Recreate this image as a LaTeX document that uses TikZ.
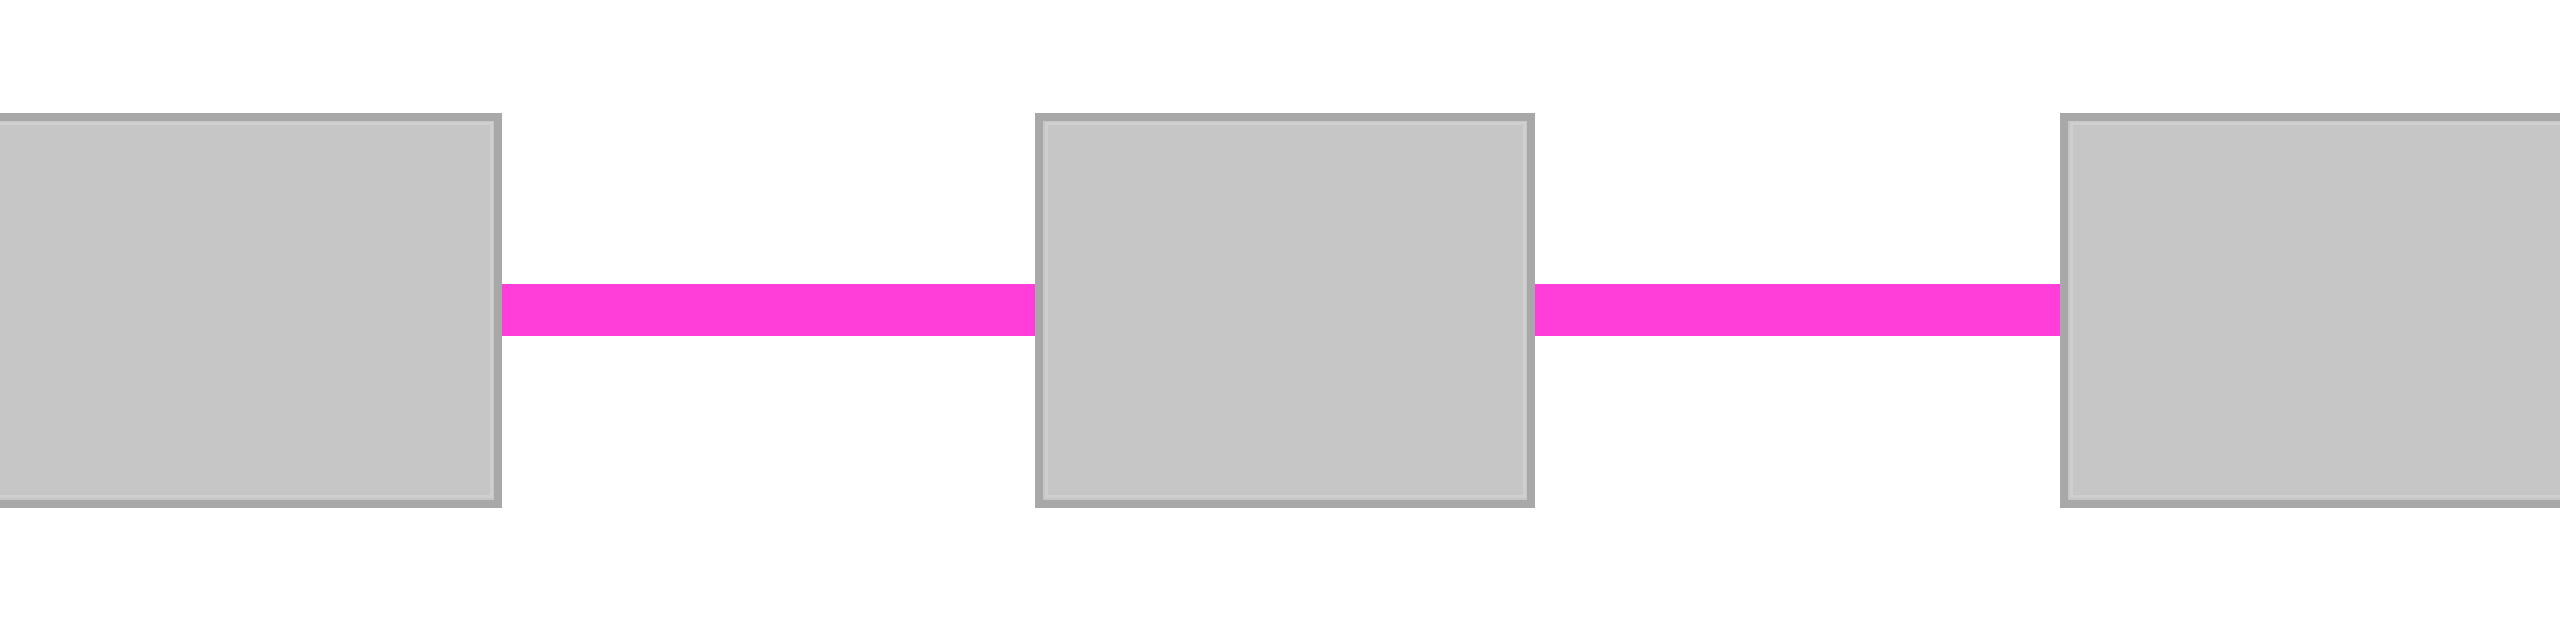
\documentclass[tikz,border=0pt]{standalone}
\usepackage{tikz}
\usetikzlibrary{positioning}

\definecolor{boxfill}{HTML}{C6C6C6}
\definecolor{boxedge}{HTML}{A8A8A8}
\definecolor{boxhi}{HTML}{CFCFCF}
\definecolor{linkpink}{HTML}{FF3EDA}

\tikzset{
    block/.style={rectangle, draw=boxedge, fill=boxfill, line width=0.08cm,
        minimum width=4.92cm, minimum height=3.87cm, inner sep=0pt,
        path picture={\draw[boxhi, line width=0.03cm]
            ([shift={(0.07,0.07)}]path picture bounding box.south west) rectangle
            ([shift={(-0.07,-0.07)}]path picture bounding box.north east);}},
    link/.style={linkpink, line width=0.52cm}
}

\begin{document}
\begin{tikzpicture}

        \useasboundingbox (0,0) rectangle (25.6,6.4);
        \clip (0,0) rectangle (25.6,6.4);

        \coordinate (pos1) at (2.32,3.3);
        \coordinate (pos2) at (12.85,3.3);
        \coordinate (pos3) at (23.3,3.3);

        % outer blocks run past the edges
        \node[block, minimum width=5.32cm] (blockA) at (pos1) {};
        \node[block] (blockB) at (pos2) {};
        \node[block, minimum width=5.32cm] (blockC) at (pos3) {};

        \draw[link] (blockA.east) -- (blockB.west);
        \draw[link] (blockB.east) -- (blockC.west);

    \end{tikzpicture}
\end{document}
